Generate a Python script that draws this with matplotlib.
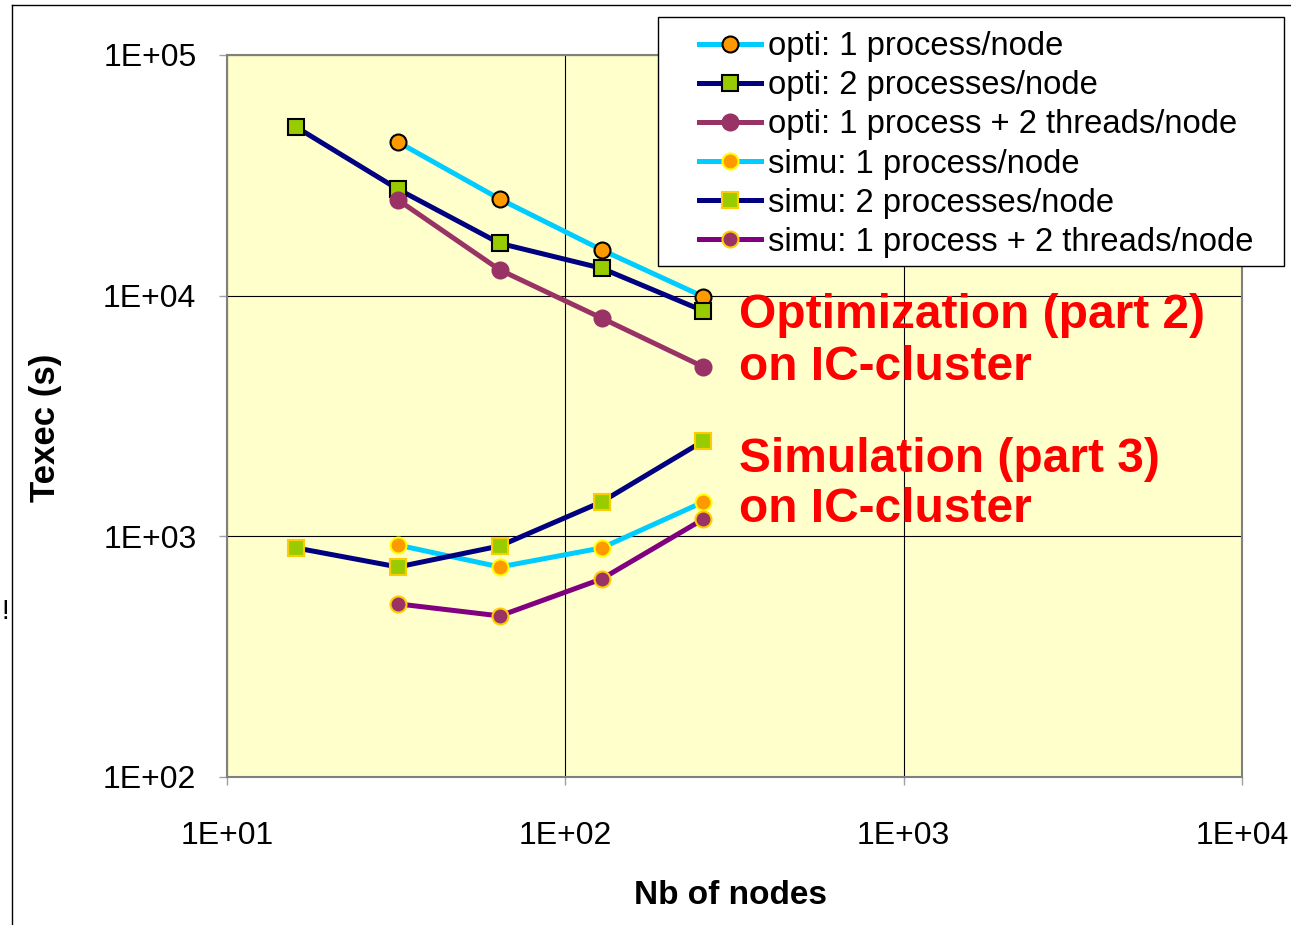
import matplotlib
matplotlib.use('Agg')
import matplotlib.pyplot as plt
from matplotlib.patches import Rectangle
from matplotlib.lines import Line2D
import numpy as np

plt.rcParams['font.family'] = ['Liberation Sans', 'DejaVu Sans']

# execution times (s) vs number of nodes
nodes_opti_1p = [32, 64, 128, 256]
opti_1p = [43500, 25200, 15500, 9900]
nodes_opti_2p = [16, 32, 64, 128, 256]
opti_2p = [50200, 27700, 16500, 13000, 8640]
nodes_opti_1p2t = [32, 64, 128, 256]
opti_1p2t = [25000, 12800, 8070, 5060]

nodes_simu_1p = [32, 64, 128, 256]
simu_1p = [920, 746, 895, 1390]
nodes_simu_2p = [16, 32, 64, 128, 256]
simu_2p = [895, 746, 912, 1390, 2490]
nodes_simu_1p2t = [32, 64, 128, 256]
simu_1p2t = [524, 467, 665, 1180]

labels = ['opti: 1 process/node', 'opti: 2 processes/node',
          'opti: 1 process + 2 threads/node', 'simu: 1 process/node',
          'simu: 2 processes/node', 'simu: 1 process + 2 threads/node']

W, H = 1291, 925
fig = plt.figure(figsize=(W/100, H/100), dpi=100)
ax = fig.add_axes([227/W, 1-777/H, (1242-227)/W, (777-55)/H])
ax.set_facecolor('#FFFFCC')

lw = 3.6
ms = 11.5
ax.plot(nodes_opti_1p, opti_1p, color='#00CCFF', lw=lw, marker='o', ms=ms,
        mfc='#FF9900', mec='black', mew=1.5, label=labels[0], zorder=3)
ax.plot(nodes_opti_2p, opti_2p, color='#000080', lw=lw, marker='s', ms=ms,
        mfc='#99CC00', mec='black', mew=1.5, label=labels[1], zorder=3)
ax.plot(nodes_opti_1p2t, opti_1p2t, color='#993366', lw=lw, marker='o', ms=ms,
        mfc='#993366', mec='#993366', mew=1.5, label=labels[2], zorder=3)
ax.plot(nodes_simu_1p, simu_1p, color='#00CCFF', lw=lw, marker='o', ms=ms,
        mfc='#FF9900', mec='#FFFF00', mew=1.5, label=labels[3], zorder=3)
ax.plot(nodes_simu_2p, simu_2p, color='#000080', lw=lw, marker='s', ms=ms,
        mfc='#99CC00', mec='#FFCC00', mew=1.5, label=labels[4], zorder=3)
ax.plot(nodes_simu_1p2t, simu_1p2t, color='#800080', lw=lw, marker='o', ms=ms,
        mfc='#993366', mec='#FFCC00', mew=1.5, label=labels[5], zorder=3)

ax.set_xscale('log')
ax.set_yscale('log')
ax.set_xlim(10, 1e4)
ax.set_ylim(100, 1e5)
ax.set_xticks([1e1, 1e2, 1e3, 1e4])
ax.set_yticks([1e2, 1e3, 1e4, 1e5])
ax.set_xticklabels(['1E+01', '1E+02', '1E+03', '1E+04'])
ax.set_yticklabels(['1E+02', '1E+03', '1E+04', '1E+05'])
ax.minorticks_off()
ax.tick_params(axis='both', direction='out', length=6, width=1,
               color='#A0A0A0', labelsize=23)
ax.tick_params(axis='x', pad=26)
ax.tick_params(axis='y', pad=16)
ax.grid(True, which='major', color='black', lw=0.8, zorder=1)
ax.set_axisbelow(True)
for sp in ax.spines.values():
    sp.set_color('#808080')
    sp.set_linewidth(1.5)

fig.text(45/W, 1-428/H, 'Texec (s)', rotation=90, ha='center', va='center',
         fontsize=25, fontweight='bold')
fig.text(731/W, 1-896/H, 'Nb of nodes', ha='center', va='center',
         fontsize=24, fontweight='bold')

red_lines = [('Optimization (part 2)', 328), ('on IC-cluster', 380),
             ('Simulation (part 3)', 472), ('on IC-cluster', 522)]
for txt, yb in red_lines:
    fig.text(739/W, 1-yb/H, txt, ha='left', va='baseline', color='#FF0000',
             fontsize=34.5, fontweight='bold')

# outer frame lines
fig.add_artist(Line2D([12/W, 12/W], [0, 1-5/H], color='black', lw=1))
fig.add_artist(Line2D([12/W, 1], [1-5/H, 1-5/H], color='black', lw=1))
fig.text(1/W, 1-612/H, '!', ha='left', va='center', fontsize=20)

# legend box
box = Rectangle((658/W, 1-266/H), (1284-658)/W, (266-17)/H,
                transform=fig.transFigure, facecolor='white',
                edgecolor='black', lw=1, zorder=4)
fig.add_artist(box)
handles, lbls = ax.get_legend_handles_labels()
leg = fig.legend(handles, lbls, loc='upper left',
                 bbox_to_anchor=(699/W, 1-31/H), frameon=False,
                 fontsize=23.6, handlelength=1.88, handletextpad=0.24,
                 labelspacing=0.25, borderaxespad=0, borderpad=0)
leg.set_zorder(5)

fig.savefig('out.png', dpi=100)
